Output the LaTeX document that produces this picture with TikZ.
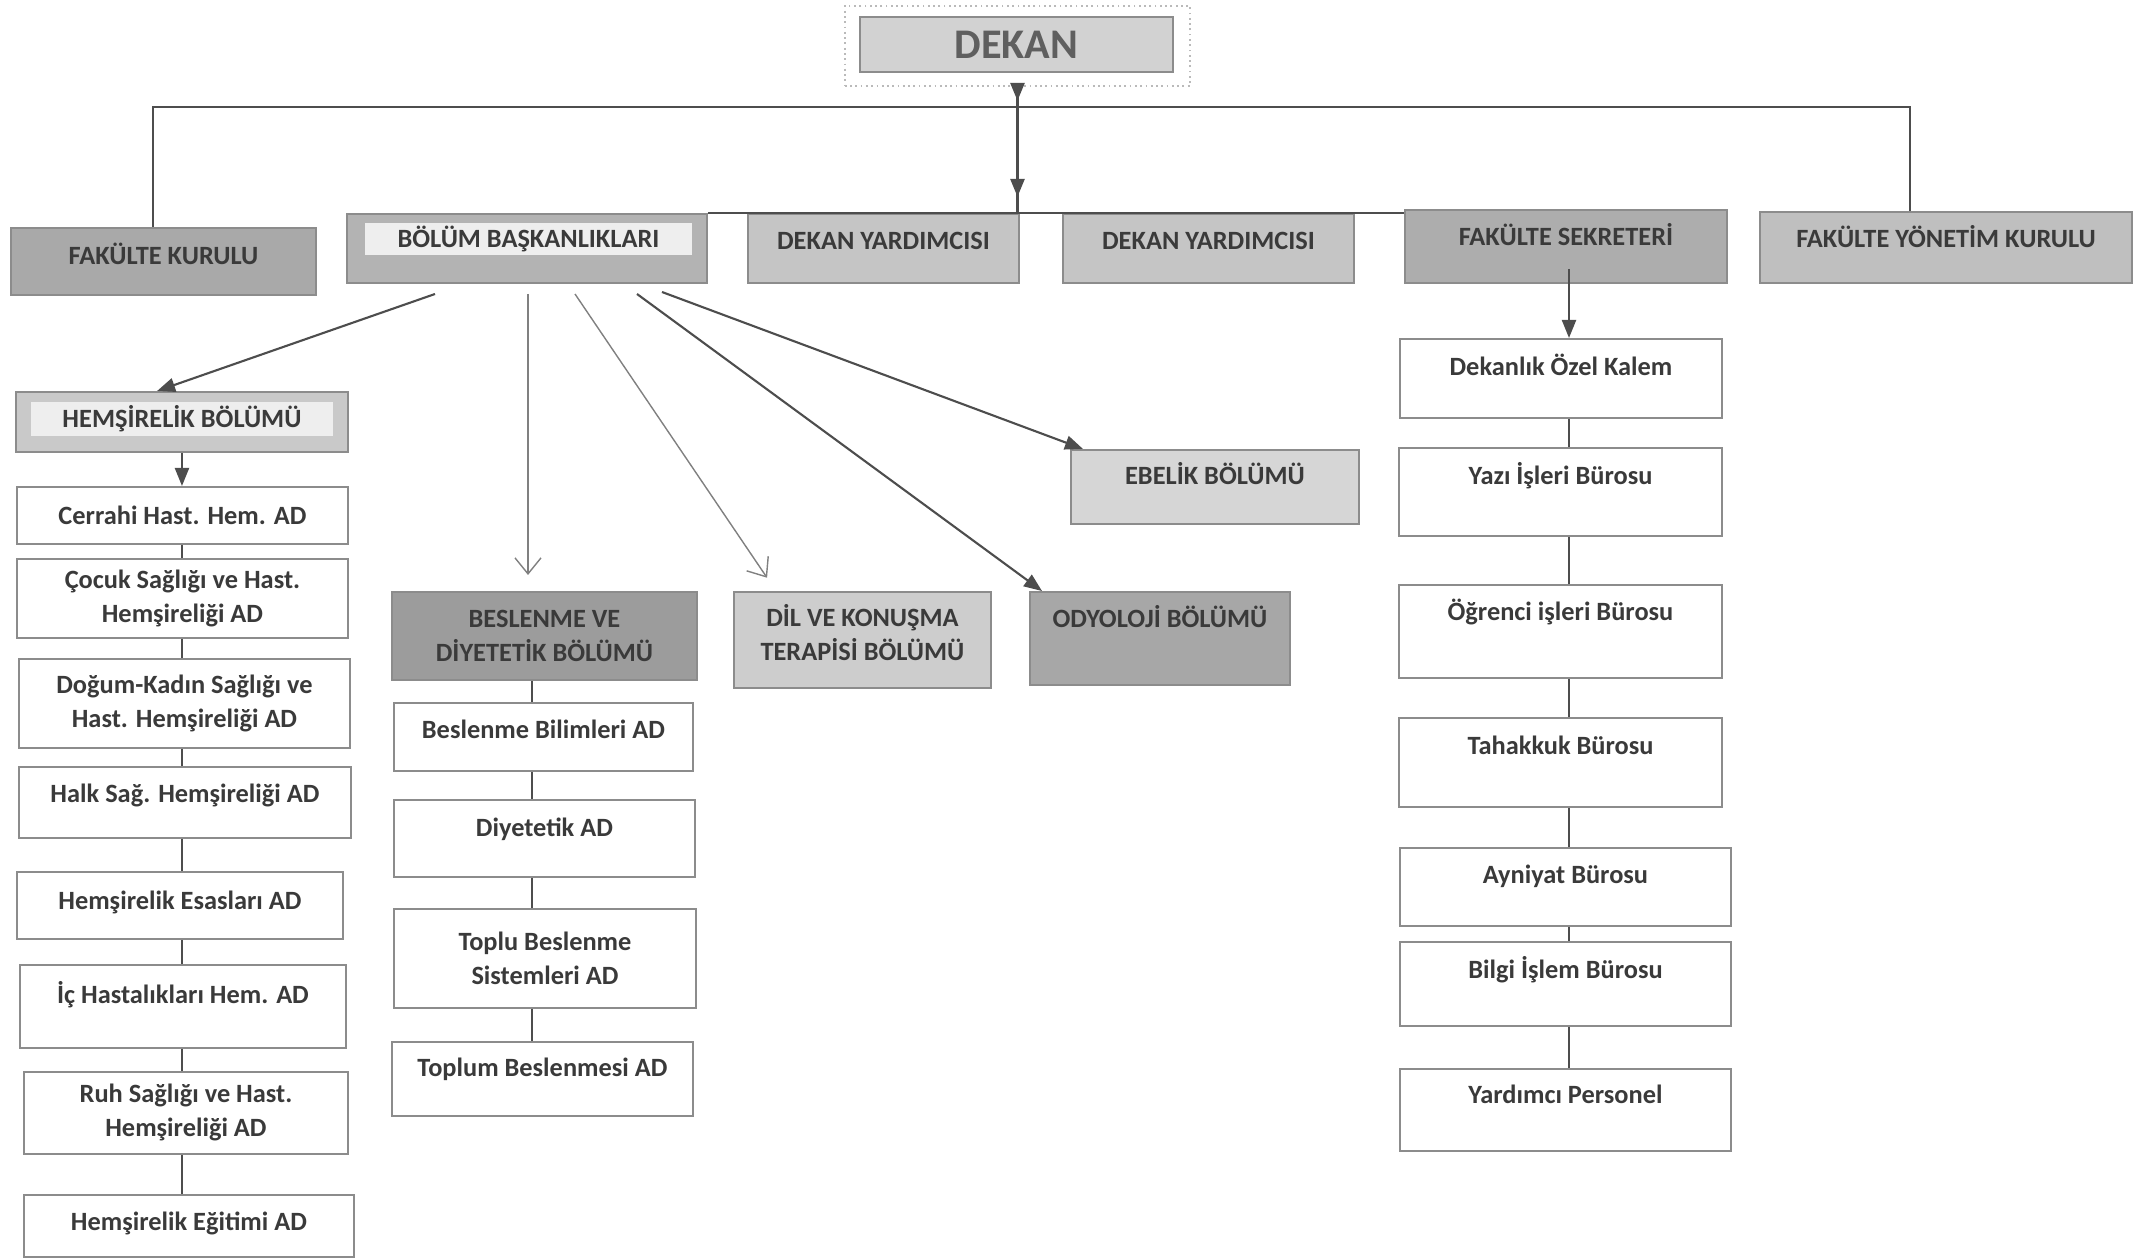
\documentclass[tikz,border=0pt]{standalone}
\usepackage{fontspec}
\setmainfont{Carlito}
\usetikzlibrary{arrows.meta}

\definecolor{yazi}{HTML}{3A3A3A}
\definecolor{cizgi}{HTML}{8C8C8C}
\definecolor{koyu}{HTML}{4D4D4D}
\definecolor{dekangri}{HTML}{D2D2D2}
\definecolor{fkgri}{HTML}{A9A9A9}
\definecolor{bbgri}{HTML}{B3B3B3}
\definecolor{icgri}{HTML}{EEEEEE}
\definecolor{dygri}{HTML}{C5C5C5}
\definecolor{fsgri}{HTML}{ADADAD}
\definecolor{fykgri}{HTML}{BFBFBF}
\definecolor{hgri}{HTML}{C9C9C9}
\definecolor{bgri}{HTML}{9C9C9C}
\definecolor{dgri}{HTML}{CDCDCD}
\definecolor{ogri}{HTML}{A7A7A7}
\definecolor{egri}{HTML}{D6D6D6}

\tikzset{
  kutu/.style={draw=cizgi, line width=0.5pt, fill=white, inner sep=0pt, align=center, text=yazi, anchor=north west},
  gri/.style={kutu, fill=#1},
  boy/.style 2 args={minimum width=#1cm, minimum height=#2cm},
  ust/.style={text height=5pt, text depth=#1},
  bag/.style={draw=koyu, line width=0.5pt},
  ok/.style={bag, line width=0.6pt, -{Triangle[length=1.8mm,width=1.4mm]}},
  acik/.style={draw=gray, line width=0.4pt, -{Straight Barb[length=1.6mm,width=2.6mm]}},
}

\begin{document}
\begin{tikzpicture}[x=0.01cm,y=-0.01cm,font=\fontsize{7.5}{9.7}\selectfont\bfseries]
\useasboundingbox (0,0) rectangle (2145,1258);

% dekan
\node[kutu, draw=cizgi!60, densely dotted, boy={3.45}{0.80}] (dekandis) at (844,5) {};
\node[gri=dekangri, boy={3.13}{0.55}, font=\fontsize{12}{14}\selectfont\bfseries, text=koyu!90] (dekan) at (859,16) {DEKAN};

% ust sira
\node[gri=fkgri, boy={3.05}{0.67}, ust=3.4pt] (fk) at (10,227) {FAKÜLTE KURULU};
\node[gri=bbgri, boy={3.60}{0.69}] (bbdis) at (346,213) {};
\node[gri=icgri, draw=none, boy={3.27}{0.32}] (bb) at (364,222) {BÖLÜM BAŞKANLIKLARI};
\node[gri=dygri, boy={2.71}{0.69}, ust=4.6pt] (dy1) at (747,213) {DEKAN YARDIMCISI};
\node[gri=dygri, boy={2.91}{0.69}, ust=4.6pt] (dy2) at (1062,213) {DEKAN YARDIMCISI};
\node[gri=fsgri, boy={3.22}{0.73}, ust=5.7pt] (fs) at (1404,209) {FAKÜLTE SEKRETERİ};
\node[gri=fykgri, boy={3.72}{0.71}, ust=5.1pt] (fyk) at (1759,211) {FAKÜLTE YÖNETİM KURULU};

\coordinate (ust1) at (153,107);
\coordinate (ust2) at (1910,107);
\draw[bag] (fk.north -| ust1) -- (ust1) -- (ust2) -- (fyk.north -| ust2);
\draw[bag] (bbdis.north east) -- (bbdis.north east -| fs.west);
\draw[bag, line width=0.8pt] (dekandis.south) -- (dekandis.south |- bbdis.north);
\draw[ok, line width=0.8pt] (dekandis.south) -- ++(0,14);
\draw[ok, line width=0.8pt] ([yshift=-0.2cm]dekandis.south) -- ++(0,90);

% hemsirelik
\node[gri=hgri, boy={3.32}{0.60}] (hbdis) at (15,391) {};
\node[gri=icgri, draw=none, boy={3.02}{0.34}] (hb) at (30,401) {HEMŞİRELİK BÖLÜMÜ};
\node[kutu, boy={3.31}{0.57}] (c1) at (16,486) {Cerrahi Hast. Hem. AD};
\node[kutu, boy={3.31}{0.79}] (c2) at (16,558) {Çocuk Sağlığı ve Hast.\\Hemşireliği AD};
\node[kutu, boy={3.31}{0.89}] (c3) at (18,658) {Doğum-Kadın Sağlığı ve\\Hast. Hemşireliği AD};
\node[kutu, boy={3.32}{0.71}, ust=5.1pt] (c4) at (18,766) {Halk Sağ. Hemşireliği AD};
\node[kutu, boy={3.26}{0.67}, ust=2.8pt] (c5) at (16,871) {Hemşirelik Esasları AD};
\node[kutu, boy={3.26}{0.83}, ust=6.8pt] (c6) at (19,964) {İç Hastalıkları Hem. AD};
\node[kutu, boy={3.24}{0.82}] (c7) at (23,1071) {Ruh Sağlığı ve Hast.\\Hemşireliği AD};
\node[kutu, boy={3.30}{0.62}, ust=2.3pt] (c8) at (23,1194) {Hemşirelik Eğitimi AD};

\draw[ok] (hbdis.south) -- (hbdis.south |- c1.north);
\foreach \a/\b in {c1/c2,c2/c3,c3/c4,c4/c5,c5/c6,c6/c7,c7/c8}
  \draw[bag] (hbdis.south |- \a.south) -- (hbdis.south |- \b.north);

% bolumler
\node[gri=bgri, boy={3.05}{0.88}] (bd) at (391,591) {BESLENME VE\\DİYETETİK BÖLÜMÜ};
\node[gri=dgri, boy={2.57}{0.96}, text depth=4pt] (dk) at (733,591) {DİL VE KONUŞMA\\TERAPİSİ BÖLÜMÜ};
\node[gri=ogri, boy={2.60}{0.93}, ust=11.4pt] (od) at (1029,591) {ODYOLOJİ BÖLÜMÜ};
\node[gri=egri, boy={2.88}{0.74}, ust=6.3pt] (eb) at (1070,449) {EBELİK BÖLÜMÜ};

\coordinate (ba1) at (435,294);
\coordinate (ba2) at (528,294);
\coordinate (ba3) at (575,294);
\coordinate (ba4) at (637,294);
\coordinate (ba5) at (662,292);
\draw[ok] (ba1) -- ([xshift=1.42cm]hbdis.north west);
\draw[acik, shorten >=0.16cm] (ba2) -- (ba2 |- bd.north);
\draw[acik, shorten >=0.16cm] (ba3) -- ([xshift=0.43cm]dk.north west);
\draw[ok] (ba4) -- ([xshift=0.13cm]od.north west);
\draw[ok] (ba5) -- ([xshift=0.13cm]eb.north west);

% beslenme
\node[kutu, boy={2.99}{0.68}, ust=4pt] (b1) at (393,702) {Beslenme Bilimleri AD};
\node[kutu, boy={3.01}{0.77}, ust=6.3pt] (b2) at (393,799) {Diyetetik AD};
\node[kutu, boy={3.02}{0.99}] (b3) at (393,908) {Toplu Beslenme\\Sistemleri AD};
\node[kutu, boy={3.01}{0.74}, ust=6.3pt] (b4) at (391,1041) {Toplum Beslenmesi AD};
\coordinate (bx) at (532,0);
\foreach \a/\b in {bd/b1,b1/b2,b2/b3,b3/b4}
  \draw[bag] (bx |- \a.south) -- (bx |- \b.north);

% sekreterlik
\node[kutu, boy={3.22}{0.79}, ust=6.8pt] (s1) at (1399,338) {Dekanlık Özel Kalem};
\node[kutu, boy={3.23}{0.88}, ust=9.1pt] (s2) at (1398,447) {Yazı İşleri Bürosu};
\node[kutu, boy={3.23}{0.93}, ust=11.4pt] (s3) at (1398,584) {Öğrenci işleri Bürosu};
\node[kutu, boy={3.23}{0.89}, ust=9.7pt] (s4) at (1398,717) {Tahakkuk Bürosu};
\node[kutu, boy={3.31}{0.78}, ust=6.8pt] (s5) at (1399,847) {Ayniyat Bürosu};
\node[kutu, boy={3.31}{0.84}, ust=8pt] (s6) at (1399,941) {Bilgi İşlem Bürosu};
\node[kutu, boy={3.31}{0.82}, ust=8.5pt] (s7) at (1399,1068) {Yardımcı Personel};

\coordinate (sx) at (1569,0);
\draw[ok] ([yshift=0.15cm]sx |- fs.south) -- (sx |- s1.north);
\foreach \a/\b in {s1/s2,s2/s3,s3/s4,s4/s5,s5/s6,s6/s7}
  \draw[bag] (sx |- \a.south) -- (sx |- \b.north);
\end{tikzpicture}
\end{document}
